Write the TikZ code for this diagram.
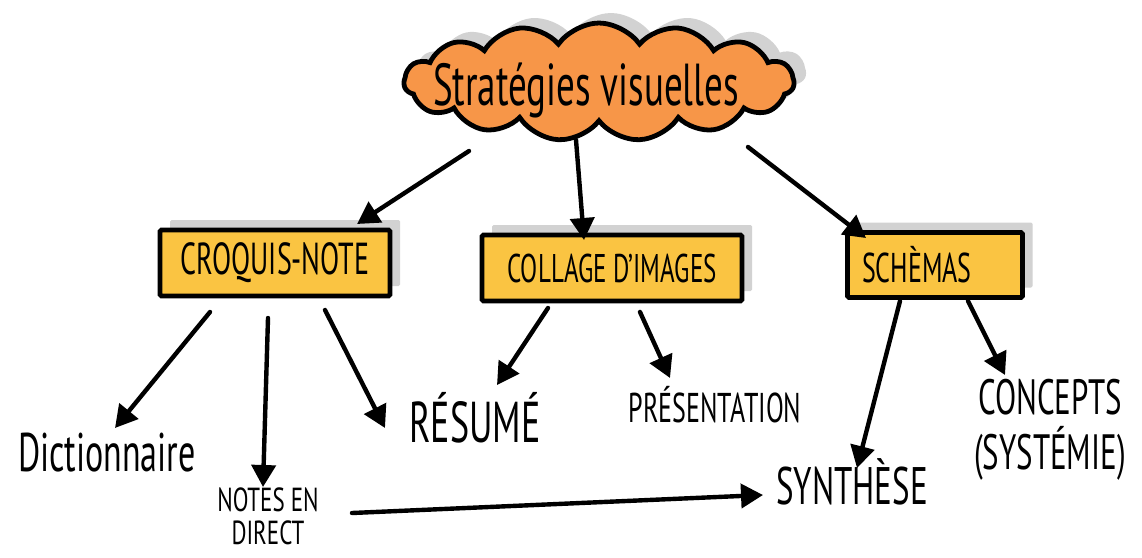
\documentclass[tikz,border=0pt]{standalone}
\usepackage{fontspec}
\setmainfont{PT Sans}
\usetikzlibrary{shapes.symbols,arrows.meta,calc}
\definecolor{orangec}{RGB}{247,150,72}
\definecolor{yellowc}{RGB}{250,196,66}
\definecolor{shadowc}{RGB}{210,210,210}
\newcommand{\hw}[1]{\scalebox{1}[1.6]{#1}}
\newcommand{\fs}[1]{\fontsize{#1}{#1}\selectfont}
\begin{document}
\begin{tikzpicture}[x=1pt,y=-1pt,
  cloudshape/.style={cloud, cloud puffs=15, cloud puff arc=110, aspect=3.3, minimum width=390pt, minimum height=118pt, inner sep=0pt},
  boxshape/.style={rectangle, minimum height=66pt, inner sep=0pt, rounded corners=1.5pt},
  boxline/.style={draw=black, line width=4.8pt, fill=yellowc},
  shade/.style={fill=shadowc, draw=none},
  lbl/.style={inner sep=0pt, text=black},
  arr/.style={line width=4.4pt, line cap=round, -{Triangle[length=22pt,width=24pt]}}
]
\useasboundingbox (0,0) rectangle (1142,557);
\fill[white] (0,0) rectangle (1142,557);

% cloud
\node[cloudshape, shade] (cloudsh) at (611,72) {};
\node[cloudshape, fill=orangec, draw=black, line width=4.8pt] (cloud) at (599,82) {};
\node[lbl, font=\fs{37}] (title) at (586,90) {\hw{Stratégies visuelles}};

% boxes
\node[boxshape, shade, minimum width=230pt] (croquissh) at (285,253) {};
\node[boxshape, boxline, minimum width=230pt, font=\fs{28}] (croquis) at (275,263) {\hw{CROQUIS-NOTE}};
\node[boxshape, shade, minimum width=260pt] (collagesh) at (622,258) {};
\node[boxshape, boxline, minimum width=260pt, font=\fs{25}] (collage) at (612,268) {\hw{COLLAGE D'IMAGES}};
\node[boxshape, shade, minimum width=175pt, minimum height=65pt] (schemassh) at (945,255) {};
\node[boxshape, boxline, minimum width=175pt, minimum height=65pt, text width=146pt, align=left, font=\fs{26}] (schemas) at (935,265) {\hw{SCHÈMAS}};

% labels
\node[lbl, font=\fs{34}] (dict) at (107,453) {\hw{Dictionnaire}};
\node[lbl, font=\fs{23}] (notes) at (268,521) {\scalebox{1}[1.45]{\begin{tabular}{@{}c@{}}NOTES EN\\[0pt]DIRECT\end{tabular}}};
\node[lbl, font=\fs{36}] (resume) at (475,418) {\hw{RÉSUMÉ}};
\node[lbl, font=\fs{26}] (presentation) at (715,405) {\hw{PRÉSENTATION}};
\node[lbl, font=\fs{33}] (synthese) at (852,482) {\hw{SYNTHÈSE}};
\node[lbl, font=\fs{31}, align=center] (concepts) at (1050,430) {\hw{CONCEPTS}\\[10pt]\hw{(SYSTÉMIE)}};

% arrows
\draw[arr] ($(cloud)+(-130,69)$) -- ($(croquis)+(82,-39)$);
\draw[arr] ($(cloud)+(-23,58)$) -- ($(collage)+(-28,-28)$);
\draw[arr] ($(cloud)+(149,65)$) -- ($(schemas)+(-69,-27)$);
\draw[arr] ($(croquis)+(-65,49)$) -- ($(dict)+(8,-25)$);
\draw[arr] ($(croquis)+(-7,55)$) -- ($(notes)+(-5,-34)$);
\draw[arr] ($(croquis)+(50,47)$) -- ($(resume)+(-90,10)$);
\draw[arr] ($(collage)+(-64,40)$) -- ($(resume)+(22,-33)$);
\draw[arr] ($(collage)+(28,44)$) -- ($(presentation)+(-45,-27)$);
\draw[arr] ($(schemas)+(-35,36)$) -- ($(synthese)+(5,-14)$);
\draw[arr] ($(schemas)+(33,36)$) -- ($(concepts)+(-45,-55)$);
\draw[arr] ($(notes)+(84,-8)$) -- ($(synthese)+(-89,13)$);
\end{tikzpicture}
\end{document}
